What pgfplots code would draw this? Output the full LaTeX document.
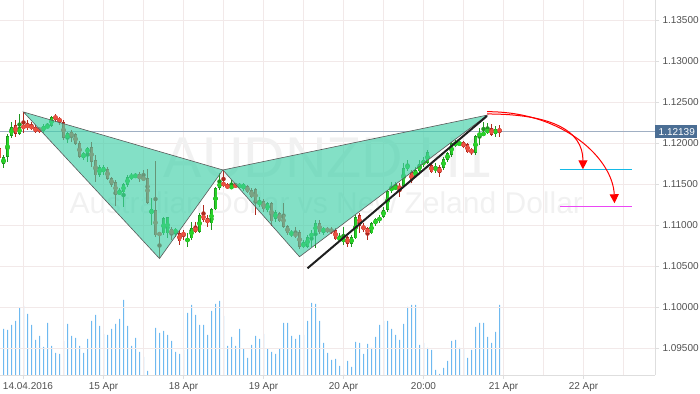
\documentclass[border=0pt]{standalone}
\usepackage{fontspec}
\setmainfont{Liberation Sans}
\usepackage{pgfplots}
\usepackage{pgfplotstable}
\pgfplotsset{compat=1.18}
\usetikzlibrary{arrows.meta}

\definecolor{gridc}{RGB}{242,233,233}
\definecolor{axisc}{RGB}{222,222,222}
\definecolor{labc}{RGB}{80,80,80}
\definecolor{volc}{RGB}{110,185,240}
\definecolor{gfill}{RGB}{40,210,40}
\definecolor{gline}{RGB}{30,150,30}
\definecolor{rfill}{RGB}{235,80,65}
\definecolor{rline}{RGB}{175,40,30}
\definecolor{tealc}{RGB}{64,208,168}
\definecolor{pricec}{RGB}{160,175,195}
\definecolor{boxc}{RGB}{75,110,148}
\definecolor{wmc}{RGB}{241,241,241}
\definecolor{cyanc}{RGB}{20,185,230}
\definecolor{magc}{RGB}{235,70,245}

% green (bullish) candles: index, open, high, low, close
\pgfplotstableread{
i o h l c
0 1.11744 1.11854 1.11695 1.11829
1 1.11829 1.12110 1.11768 1.12085
2 1.12085 1.12256 1.12061 1.12195
4 1.12110 1.12354 1.12098 1.12195
10 1.12146 1.12232 1.12122 1.12207
11 1.12195 1.12244 1.12183 1.12207
12 1.12207 1.12329 1.12195 1.12317
16 1.12049 1.12134 1.12000 1.12122
20 1.11817 1.11890 1.11793 1.11878
21 1.11878 1.11951 1.11768 1.11939
24 1.11610 1.11732 1.11585 1.11707
25 1.11646 1.11732 1.11610 1.11707
29 1.11378 1.11451 1.11366 1.11415
30 1.11402 1.11512 1.11220 1.11500
31 1.11488 1.11610 1.11463 1.11585
32 1.11585 1.11634 1.11549 1.11598
33 1.11585 1.11634 1.11573 1.11610
37 1.11134 1.11329 1.11000 1.11195
40 1.10902 1.11098 1.10878 1.11085
41 1.10902 1.11098 1.10841 1.11098
43 1.10902 1.10963 1.10854 1.10951
46 1.10793 1.10902 1.10732 1.10841
47 1.10841 1.11037 1.10817 1.10963
49 1.10915 1.11146 1.10902 1.11122
52 1.11024 1.11207 1.10939 1.11195
53 1.11195 1.11463 1.11183 1.11451
54 1.11451 1.11634 1.11427 1.11524
57 1.11451 1.11549 1.11439 1.11476
59 1.11463 1.11512 1.11451 1.11488
60 1.11439 1.11512 1.11415 1.11500
64 1.11244 1.11341 1.11220 1.11293
66 1.11183 1.11280 1.11159 1.11268
68 1.11073 1.11183 1.11037 1.11159
72 1.10878 1.10939 1.10854 1.10915
75 1.10732 1.10817 1.10720 1.10780
76 1.10732 1.10878 1.10720 1.10854
77 1.10854 1.10939 1.10732 1.10902
78 1.10902 1.11061 1.10720 1.11024
80 1.10927 1.10976 1.10878 1.10951
84 1.10817 1.10902 1.10793 1.10854
85 1.10793 1.10976 1.10756 1.10841
87 1.10768 1.10878 1.10732 1.10854
88 1.10841 1.11122 1.10829 1.11098
92 1.10902 1.11037 1.10890 1.11024
93 1.11012 1.11085 1.10988 1.11073
94 1.11049 1.11122 1.11024 1.11098
95 1.11098 1.11220 1.11085 1.11183
96 1.11183 1.11427 1.11159 1.11415
97 1.11427 1.11524 1.11390 1.11451
98 1.11439 1.11524 1.11427 1.11476
100 1.11476 1.11756 1.11451 1.11695
101 1.11683 1.11793 1.11659 1.11744
103 1.11585 1.11707 1.11573 1.11671
104 1.11659 1.11793 1.11646 1.11744
105 1.11732 1.11829 1.11707 1.11793
106 1.11756 1.11915 1.11744 1.11890
108 1.11671 1.11756 1.11634 1.11707
110 1.11695 1.11829 1.11671 1.11805
111 1.11793 1.11890 1.11768 1.11878
112 1.11854 1.12012 1.11829 1.12000
113 1.11976 1.12037 1.11951 1.12000
114 1.11988 1.12012 1.11976 1.12000
118 1.11878 1.12098 1.11854 1.12085
119 1.12085 1.12183 1.11976 1.12122
120 1.12098 1.12256 1.12085 1.12122
121 1.12122 1.12244 1.12110 1.12171
123 1.12110 1.12207 1.12073 1.12171
}\greendata

% red (bearish) candles: index, open, high, low, close
\pgfplotstableread{
i o h l c
-1 1.11939 1.11963 1.11793 1.11817
3 1.12220 1.12280 1.12073 1.12110
5 1.12207 1.12378 1.12122 1.12183
6 1.12220 1.12280 1.12159 1.12195
7 1.12207 1.12256 1.12159 1.12183
8 1.12195 1.12220 1.12122 1.12134
9 1.12171 1.12195 1.12122 1.12159
13 1.12329 1.12354 1.12256 1.12293
14 1.12305 1.12317 1.12220 1.12256
15 1.12256 1.12280 1.12037 1.12061
17 1.12134 1.12159 1.12012 1.12073
18 1.12110 1.12122 1.11976 1.11988
19 1.12000 1.12024 1.11817 1.11829
22 1.11951 1.12012 1.11707 1.11768
23 1.11793 1.11854 1.11524 1.11610
26 1.11683 1.11707 1.11549 1.11561
27 1.11573 1.11585 1.11463 1.11488
28 1.11524 1.11549 1.11232 1.11378
34 1.11622 1.11646 1.11524 1.11561
35 1.11573 1.11671 1.11549 1.11561
36 1.11573 1.11683 1.11256 1.11268
38 1.11183 1.11780 1.10854 1.10878
39 1.10902 1.10902 1.10598 1.10878
42 1.10951 1.10976 1.10817 1.10890
44 1.10902 1.10939 1.10756 1.10805
45 1.10902 1.10939 1.10817 1.10878
48 1.10976 1.11037 1.10902 1.10915
50 1.11134 1.11244 1.11037 1.11061
51 1.11085 1.11122 1.10976 1.11024
55 1.11524 1.11659 1.11463 1.11476
56 1.11488 1.11512 1.11439 1.11451
58 1.11488 1.11512 1.11463 1.11476
61 1.11476 1.11488 1.11390 1.11402
62 1.11427 1.11451 1.11329 1.11341
63 1.11439 1.11451 1.11122 1.11280
65 1.11293 1.11317 1.11159 1.11195
67 1.11268 1.11280 1.10988 1.11049
69 1.11146 1.11159 1.11037 1.11049
70 1.11134 1.11268 1.10963 1.10976
71 1.10988 1.11000 1.10878 1.10902
73 1.10902 1.10976 1.10841 1.10866
74 1.10915 1.10939 1.10707 1.10732
79 1.11024 1.11061 1.10890 1.10915
81 1.10951 1.10976 1.10902 1.10927
82 1.10951 1.10976 1.10890 1.10902
83 1.10939 1.10963 1.10817 1.10829
86 1.10854 1.10866 1.10732 1.10768
89 1.11122 1.11146 1.10902 1.10988
90 1.10988 1.11024 1.10915 1.10951
91 1.10963 1.10976 1.10817 1.10902
99 1.11476 1.11512 1.11341 1.11439
102 1.11646 1.11671 1.11512 1.11537
107 1.11732 1.11756 1.11634 1.11646
109 1.11707 1.11732 1.11585 1.11634
115 1.12012 1.12024 1.11939 1.11951
116 1.11988 1.12000 1.11878 1.11890
117 1.11927 1.11939 1.11854 1.11878
122 1.12183 1.12232 1.12085 1.12098
124 1.12171 1.12220 1.12073 1.12139
}\reddata

% tick volume (relative units)
\pgfplotstableread{
i v
0 46
1 45
2 50
3 54
4 67
5 69
6 61
7 50
8 35
9 39
10 28
11 52
12 29
13 22
14 21
15 34
16 51
17 39
18 37
19 29
20 22
21 36
22 54
23 60
24 49
25 41
26 40
27 46
28 51
29 56
30 75
31 49
32 29
33 37
34 23
35 18
36 4
38 47
39 42
40 44
41 40
42 34
43 23
44 21
45 25
46 62
47 70
48 60
49 50
50 50
51 40
52 64
53 71
54 74
55 59
56 29
57 38
58 29
59 46
60 26
61 17
62 30
63 39
64 36
65 41
66 26
67 23
68 21
69 26
70 52
71 52
72 39
73 36
74 40
75 40
76 54
77 72
78 71
79 54
80 32
81 22
82 15
83 16
84 9
85 1
86 14
87 8
88 33
89 32
90 21
91 31
92 27
93 38
94 50
95 54
96 54
97 46
98 40
99 35
100 51
101 68
102 70
103 70
104 30
105 32
106 27
107 25
108 5
109 1
110 7
111 14
112 34
113 35
114 27
115 27
116 17
117 25
118 48
119 52
120 52
121 38
122 32
123 43
124 70
}\voldata

\begin{document}
\begin{tikzpicture}
\useasboundingbox (0,-19bp) rectangle (700bp,375bp);

% volume layer
\begin{axis}[at={(0,0)},anchor=south west,width=655bp,height=375bp,scale only axis,
  xmin=-0.875,xmax=162.875,ymin=0,ymax=375,hide axis]
  \addplot[ybar, bar width=1bp, bar shift=0pt, color=volc, fill=volc, draw=none, mark=none] table[x=i,y=v]{\voldata};
\end{axis}

% price layer
\begin{axis}[at={(0,0)},anchor=south west,width=655bp,height=375bp,scale only axis,
  xmin=-0.875,xmax=162.875,ymin=1.091707,ymax=1.137439,
  clip mode=individual,
  axis x line*=bottom, axis y line*=right,
  axis line style={draw=axisc, line width=0.8bp},
  xtick={5,25,45,65,85,105,125,145},
  xticklabels={\hspace*{9bp}14.04.2016,15 Apr,18 Apr,19 Apr,20 Apr,20:00,21 Apr,22 Apr},
  minor xtick={15,35,55,75,95,115,135,155},
  ytick={1.095,1.1,1.105,1.11,1.115,1.12,1.125,1.13,1.135},
  xmajorgrids, xminorgrids, ymajorgrids,
  grid style={draw=gridc, line width=0.8bp},
  minor grid style={draw=gridc, line width=0.8bp},
  tick align=outside,
  major tick length=4bp, minor tick length=0pt,
  tick style={draw=axisc, line width=0.8bp},
  tick label style={font=\fontsize{10bp}{12bp}\selectfont, text=labc},
  /pgf/number format/assume math mode=true,
  y tick label style={/pgf/number format/.cd, fixed, zerofill, precision=5},
]
  % watermark
  \node[text=wmc, font=\fontsize{57.5bp}{60bp}\selectfont, anchor=base] at (axis cs:81.2,1.11585) {AUDNZD,H1};
  \node[text=wmc, font=\fontsize{30bp}{32bp}\selectfont, anchor=base] at (axis cs:80.7,1.11146) {Australian Dollar vs New Zeland Dollar};

  % current price line
  \addplot[color=pricec, line width=0.9bp] coordinates {(-0.875,1.12139) (162.875,1.12139)};

  % wicks
  \addplot[color=gline, only marks, mark=none, error bars/.cd, y dir=both, y explicit, error mark=none,
    error bar style={line width=1bp, color=gline}]
    table[x=i, y expr={(\thisrow{h}+\thisrow{l})/2}, y error expr={(\thisrow{h}-\thisrow{l})/2}]{\greendata};
  \addplot[color=rline, only marks, mark=none, error bars/.cd, y dir=both, y explicit, error mark=none,
    error bar style={line width=1bp, color=rline}]
    table[x=i, y expr={(\thisrow{h}+\thisrow{l})/2}, y error expr={(\thisrow{h}-\thisrow{l})/2}]{\reddata};
  % bodies (outline)
  \addplot[color=gline, only marks, mark=none, error bars/.cd, y dir=both, y explicit, error mark=none,
    error bar style={line width=3.2bp, color=gline}]
    table[x=i, y expr={(\thisrow{o}+\thisrow{c})/2}, y error expr={max(abs(\thisrow{o}-\thisrow{c})/2,0.00006)}]{\greendata};
  \addplot[color=rline, only marks, mark=none, error bars/.cd, y dir=both, y explicit, error mark=none,
    error bar style={line width=3.2bp, color=rline}]
    table[x=i, y expr={(\thisrow{o}+\thisrow{c})/2}, y error expr={max(abs(\thisrow{o}-\thisrow{c})/2,0.00006)}]{\reddata};
  % bodies (fill)
  \addplot[color=gfill, only marks, mark=none, error bars/.cd, y dir=both, y explicit, error mark=none,
    error bar style={line width=2bp, color=gfill}]
    table[x=i, y expr={(\thisrow{o}+\thisrow{c})/2}, y error expr={max(abs(\thisrow{o}-\thisrow{c})/2-0.00007,0)}]{\greendata};
  \addplot[color=rfill, only marks, mark=none, error bars/.cd, y dir=both, y explicit, error mark=none,
    error bar style={line width=2bp, color=rfill}]
    table[x=i, y expr={(\thisrow{o}+\thisrow{c})/2}, y error expr={max(abs(\thisrow{o}-\thisrow{c})/2-0.00007,0)}]{\reddata};

  % harmonic pattern triangles
  \addplot[fill=tealc, fill opacity=0.65, draw=black!65, line width=0.6bp]
    coordinates {(5,1.12378) (54.85,1.11671) (39,1.10591)} -- cycle;
  \addplot[fill=tealc, fill opacity=0.65, draw=black!65, line width=0.6bp]
    coordinates {(54.85,1.11671) (74,1.10613) (121,1.12341)} -- cycle;

  % trend line
  \addplot[color=black!88, line width=2bp] coordinates {(76,1.10472) (120.85,1.12329)};

  % target levels
  \addplot[color=cyanc, line width=1.2bp] coordinates {(139,1.11679) (157.1,1.11679)};
  \addplot[color=magc, line width=1.2bp] coordinates {(139,1.11228) (157.1,1.11228)};

  % projection arrows
  \draw[red, line width=1bp, -{Triangle[width=9bp,length=9bp]}]
    (axis cs:120.9,1.12354) .. controls (axis cs:136.7,1.12354) and (axis cs:144.9,1.12159) .. (axis cs:144.85,1.11679);
  \draw[red, line width=1bp, -{Triangle[width=9bp,length=9bp]}]
    (axis cs:120.9,1.12382) .. controls (axis cs:140.4,1.12382) and (axis cs:152.4,1.11793) .. (axis cs:152.75,1.11265);

  % current price box
  \node[fill=boxc, text=white, anchor=west, inner xsep=2.5bp, inner ysep=3bp,
    font=\fontsize{10bp}{12bp}\selectfont] at (axis cs:162.875,1.12139) {\hspace*{1bp}1.12139};
\end{axis}
\end{tikzpicture}
\end{document}
